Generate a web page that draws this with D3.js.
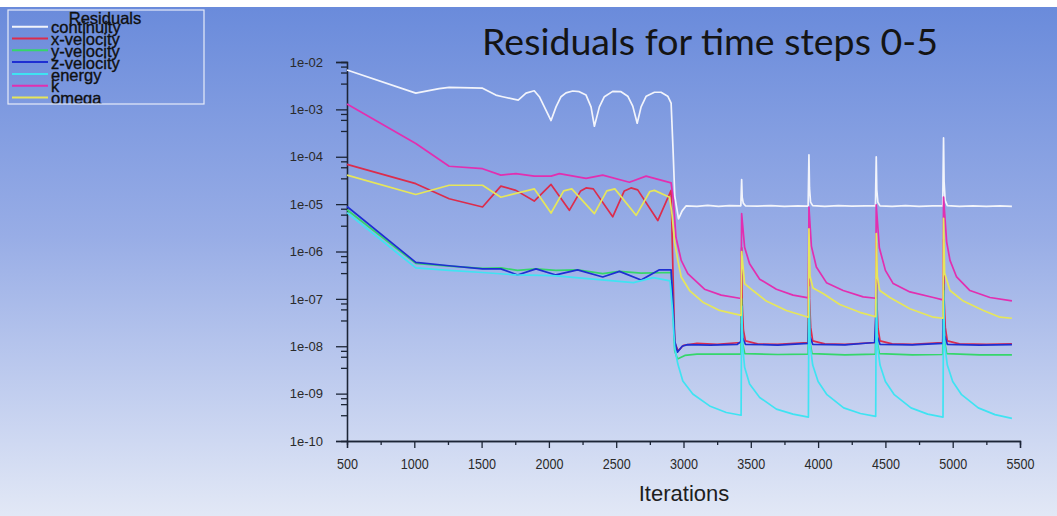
<!DOCTYPE html>
<html>
<head>
<meta charset="utf-8">
<script src="https://cdn.jsdelivr.net/npm/d3@7"></script>
<style>
  html, body { margin: 0; padding: 0; background: #ffffff; overflow: hidden; }
  svg { display: block; }
</style>
</head>
<body>
<svg id="chart" width="1057" height="516"></svg>
<script>
// Residual histories, [iteration, residual] pairs
const continuity = [
  [500,6.8e-3],[1011,2.2e-3],[1185,2.75e-3],[1259,2.9e-3],[1507,2.8e-3],[1606,2.0e-3],[1656,1.85e-3],
  [1772,1.57e-3],[1830,2.2e-3],[1891,2.47e-3],[1929,1.85e-3],[1978,9.6e-4],[2016,5.8e-4],[2053,1.13e-3],
  [2090,1.85e-3],[2127,2.23e-3],[2177,2.44e-3],[2226,2.36e-3],[2276,2.0e-3],[2313,1.13e-3],[2338,4.4e-4],
  [2375,1.13e-3],[2412,1.85e-3],[2474,2.4e-3],[2536,2.36e-3],[2586,1.9e-3],[2623,1.17e-3],[2656,5.1e-4],
  [2685,1.13e-3],[2723,1.9e-3],[2784,2.3e-3],[2833,2.3e-3],[2883,1.9e-3],[2908,1.35e-3],[2922,1.5e-4],
  [2935,1.5e-5],[2963,4.9e-6],[2990,7.2e-6],[3020,9.2e-6],[3100,9.0e-6],[3180,9.4e-6],[3260,9.0e-6],
  [3340,9.3e-6],[3426,9.2e-6],[3432,3.3e-5],[3436,1.4e-5],[3444,1.05e-5],[3460,9.2e-6],[3550,9.1e-6],
  [3650,9.3e-6],[3750,9.0e-6],[3850,9.2e-6],[3926,9.1e-6],[3932,1.1e-4],[3936,2.2e-5],[3944,1.1e-5],
  [3960,9.3e-6],[4050,9.0e-6],[4150,9.3e-6],[4250,9.1e-6],[4350,9.2e-6],[4426,9.2e-6],[4432,1.0e-4],
  [4436,2.0e-5],[4444,1.1e-5],[4460,9.2e-6],[4550,9.0e-6],[4650,9.3e-6],[4750,9.0e-6],[4850,9.2e-6],
  [4926,9.2e-6],[4932,2.5e-4],[4936,3.0e-5],[4944,1.2e-5],[4960,9.3e-6],[5050,9.0e-6],[5150,9.2e-6],
  [5250,9.0e-6],[5350,9.2e-6],[5440,9.0e-6]
];
const xVelocity = [
  [500,6.9e-5],[1011,2.7e-5],[1259,1.3e-5],[1507,8.7e-6],[1643,2.4e-5],[1755,1.95e-5],[1891,1.16e-5],
  [2016,2.6e-5],[2152,7.4e-6],[2236,1.9e-5],[2276,2.2e-5],[2330,2.1e-5],[2474,5.4e-6],[2560,1.9e-5],
  [2610,2.2e-5],[2660,2.0e-5],[2809,4.5e-6],[2908,1.95e-5],[2918,1.0e-6],[2935,1.2e-8],[2960,8.0e-9],
  [3000,1.05e-8],[3100,1.15e-8],[3250,1.1e-8],[3426,1.2e-8],[3432,1.2e-6],[3436,8.0e-8],[3445,2.2e-8],
  [3460,1.3e-8],[3550,1.12e-8],[3700,1.1e-8],[3926,1.2e-8],[3932,2.0e-6],[3936,1.0e-7],[3945,2.5e-8],
  [3960,1.3e-8],[4050,1.12e-8],[4200,1.1e-8],[4426,1.2e-8],[4432,1.5e-6],[4436,9.0e-8],[4445,2.4e-8],
  [4460,1.3e-8],[4550,1.12e-8],[4700,1.1e-8],[4926,1.2e-8],[4932,1.8e-6],[4936,1.0e-7],[4945,2.5e-8],
  [4960,1.3e-8],[5050,1.12e-8],[5250,1.1e-8],[5440,1.12e-8]
];
const yVelocity = [
  [500,7.6e-6],[1011,5.6e-7],[1259,4.9e-7],[1507,4.4e-7],[1643,4.5e-7],[1767,4.0e-7],[1904,4.3e-7],
  [2052,4.0e-7],[2213,4.1e-7],[2400,3.4e-7],[2524,3.8e-7],[2685,3.5e-7],[2908,3.6e-7],[2920,8.0e-8],
  [2935,8.0e-9],[2955,5.4e-9],[3010,6.4e-9],[3100,6.8e-9],[3426,6.8e-9],[3432,1.0e-7],[3438,1.2e-8],
  [3455,7.0e-9],[3700,6.7e-9],[3926,6.8e-9],[3932,1.5e-7],[3938,1.3e-8],[3955,7.0e-9],[4200,6.6e-9],
  [4426,6.8e-9],[4432,1.5e-7],[4438,1.3e-8],[4455,7.0e-9],[4700,6.6e-9],[4926,6.7e-9],[4932,2.0e-7],
  [4938,1.4e-8],[4955,7.0e-9],[5200,6.6e-9],[5440,6.6e-9]
];
const zVelocity = [
  [500,8.9e-6],[1011,5.9e-7],[1259,5.0e-7],[1507,4.3e-7],[1643,4.3e-7],[1767,3.2e-7],[1904,4.3e-7],
  [2052,3.2e-7],[2213,4.1e-7],[2400,2.9e-7],[2524,3.8e-7],[2685,2.5e-7],[2821,4.1e-7],[2908,4.1e-7],
  [2920,1.0e-7],[2935,1.3e-8],[2955,7.5e-9],[2990,1.0e-8],[3030,1.08e-8],[3200,1.06e-8],[3400,1.1e-8],
  [3426,1.25e-8],[3432,3.0e-8],[3440,1.5e-8],[3460,1.1e-8],[3700,1.06e-8],[3926,1.15e-8],[3932,5.0e-8],
  [3940,1.6e-8],[3960,1.1e-8],[4200,1.07e-8],[4420,1.2e-8],[4432,6.0e-8],[4440,1.6e-8],[4460,1.1e-8],
  [4700,1.07e-8],[4926,1.15e-8],[4932,9.0e-8],[4940,1.7e-8],[4960,1.1e-8],[5200,1.06e-8],[5440,1.08e-8]
];
const energy = [
  [500,6.6e-6],[1011,4.5e-7],[1259,4.0e-7],[1507,3.6e-7],[1755,3.2e-7],[2030,3.1e-7],[2330,2.6e-7],
  [2628,2.2e-7],[2776,2.8e-7],[2900,2.4e-7],[2918,6.0e-8],[2935,9.0e-9],[2958,4.2e-9],[2995,1.85e-9],
  [3069,9.8e-10],[3194,5.5e-10],[3318,4.0e-10],[3428,3.5e-10],[3432,7.0e-8],[3440,1.0e-8],[3454,3.6e-9],
  [3491,1.6e-9],[3566,8.3e-10],[3690,4.7e-10],[3814,3.7e-10],[3928,3.2e-10],[3932,1.8e-7],[3940,1.1e-8],
  [3960,4.0e-9],[4000,1.8e-9],[4066,9.5e-10],[4190,5.0e-10],[4314,3.8e-10],[4428,3.3e-10],[4432,2.0e-7],
  [4440,1.1e-8],[4460,4.0e-9],[4500,1.8e-9],[4566,9.5e-10],[4690,5.0e-10],[4814,3.7e-10],[4928,3.2e-10],
  [4932,1.5e-7],[4940,1.1e-8],[4960,4.0e-9],[5000,1.8e-9],[5066,9.5e-10],[5190,5.0e-10],[5314,3.6e-10],
  [5440,3.0e-10]
];
const kResidual = [
  [500,1.3e-3],[1011,1.9e-4],[1259,6.3e-5],[1507,5.6e-5],[1643,4.1e-5],[1755,4.4e-5],[1891,3.9e-5],
  [2016,3.9e-5],[2078,4.4e-5],[2276,3.5e-5],[2400,4.1e-5],[2598,2.9e-5],[2722,3.9e-5],[2908,2.8e-5],
  [2925,1.2e-5],[2944,2.0e-6],[2983,6.5e-7],[3032,3.4e-7],[3156,1.6e-7],[3280,1.2e-7],[3428,1.02e-7],
  [3432,6.3e-6],[3454,1.23e-6],[3491,5.5e-7],[3566,2.6e-7],[3690,1.6e-7],[3814,1.2e-7],[3928,1.05e-7],
  [3932,8.7e-6],[3950,1.3e-6],[3987,4.7e-7],[4062,2.2e-7],[4186,1.5e-7],[4335,1.1e-7],[4428,1.03e-7],
  [4432,9.6e-6],[4455,1.2e-6],[4500,4.0e-7],[4558,2.1e-7],[4682,1.4e-7],[4856,1.07e-7],[4928,9.5e-8],
  [4932,1.4e-5],[4955,1.6e-6],[4980,6.5e-7],[5029,2.9e-7],[5128,1.5e-7],[5277,1.07e-7],[5440,9.1e-8]
];
const omega = [
  [500,4.1e-5],[1011,1.6e-5],[1259,2.5e-5],[1507,2.5e-5],[1643,1.4e-5],[1891,2.1e-5],[2016,6.5e-6],
  [2110,1.9e-5],[2170,2.1e-5],[2338,6.3e-6],[2430,1.9e-5],[2490,2.1e-5],[2648,5.8e-6],[2750,1.85e-5],
  [2784,1.95e-5],[2896,1.4e-5],[2915,6.0e-6],[2935,1.5e-6],[2958,6.5e-7],[2983,2.9e-7],[3045,1.5e-7],
  [3144,8.5e-8],[3268,5.7e-8],[3428,4.5e-8],[3432,1.0e-6],[3454,2.1e-7],[3516,1.5e-7],[3615,9.0e-8],
  [3764,5.7e-8],[3928,4.1e-8],[3932,3.0e-6],[3940,3.0e-7],[3962,1.7e-7],[4037,1.3e-7],[4161,7.6e-8],
  [4310,5.2e-8],[4428,4.2e-8],[4432,2.4e-6],[4440,3.0e-7],[4458,1.5e-7],[4533,1.07e-7],[4682,6.2e-8],
  [4856,4.1e-8],[4928,3.9e-8],[4932,5.0e-6],[4940,3.5e-7],[4980,1.5e-7],[5079,9.0e-8],[5228,5.7e-8],
  [5351,4.1e-8],[5440,3.9e-8]
];

const seriesNames = ["continuity", "x-velocity", "y-velocity", "z-velocity", "energy", "k", "omega"];
const seriesData = [continuity, xVelocity, yVelocity, zVelocity, energy, kResidual, omega];
const seriesColors = ["#f2f4fb", "#dc2c4c", "#35d66a", "#1e2fd2", "#3fe3f2", "#e22fb0", "#e6e65a"];

const xTicks = [500, 1000, 1500, 2000, 2500, 3000, 3500, 4000, 4500, 5000, 5500];
const yTicks = [1e-10, 1e-9, 1e-8, 1e-7, 1e-6, 1e-5, 1e-4, 1e-3, 1e-2];
const yTickLabels = ["1e-10", "1e-09", "1e-08", "1e-07", "1e-06", "1e-05", "1e-04", "1e-03", "1e-02"];
const yMinorFactors = [8, 6, 3.5];

const titleText = "Residuals for time steps 0-5";
const xAxisTitle = "Iterations";
const legendTitle = "Residuals";

const W = 1057, H = 516;
const svg = d3.select("#chart");
const defs = svg.append("defs");

// background gradient panel
const grad = defs.append("linearGradient").attr("id", "bg").attr("x1", 0).attr("y1", 0).attr("x2", 0).attr("y2", 1);
grad.append("stop").attr("offset", "0%").attr("stop-color", "#6a8bdb");
grad.append("stop").attr("offset", "45%").attr("stop-color", "#98ade6");
grad.append("stop").attr("offset", "100%").attr("stop-color", "#e2e8f6");
svg.append("rect").attr("x", 0).attr("y", 7).attr("width", W).attr("height", H - 7).attr("fill", "url(#bg)");

// scales
const x = d3.scaleLinear().domain([500, 5500]).range([347, 1020]);
const y = d3.scaleLog().domain([1e-10, 1e-2]).range([441, 62]);

const axisColor = "#1c2536";
const tickFont = "'Liberation Sans', Arial, sans-serif";

// y axis: decades with labels plus minor ticks
const yMinor = [];
yTicks.slice(0, -1).forEach(d => yMinorFactors.forEach(f => yMinor.push(d * f)));

const gy = svg.append("g").attr("transform", `translate(${x(500)},0)`);
gy.call(d3.axisLeft(y).tickValues(yTicks).tickSize(11).tickPadding(13)
  .tickFormat((d, i) => yTickLabels[i]));
const gyMinor = svg.append("g").attr("transform", `translate(${x(500)},0)`);
gyMinor.call(d3.axisLeft(y).tickValues(yMinor).tickSize(6).tickFormat(""));
[gy, gyMinor].forEach(g => {
  g.select(".domain").attr("stroke", axisColor).attr("stroke-width", 1.3);
  g.selectAll(".tick line").attr("stroke", axisColor).attr("stroke-width", 1.3);
});
gy.selectAll(".tick text").attr("fill", "#2a2a2a").style("font-family", tickFont).style("font-size", "13px");

// x axis: major ticks labelled, minor ticks halfway
const xMinor = xTicks.slice(0, -1).map(d => d + 250);
const gx = svg.append("g").attr("transform", `translate(0,${y(1e-10)})`);
gx.call(d3.axisBottom(x).tickValues(xTicks).tickSize(7).tickPadding(10).tickFormat(d3.format("d")));
const gxMinor = svg.append("g").attr("transform", `translate(0,${y(1e-10)})`);
gxMinor.call(d3.axisBottom(x).tickValues(xMinor).tickSize(4).tickFormat(""));
[gx, gxMinor].forEach(g => {
  g.select(".domain").attr("stroke", axisColor).attr("stroke-width", 1.3);
  g.selectAll(".tick line").attr("stroke", axisColor).attr("stroke-width", 1.3);
});
// condensed tick numerals
gx.selectAll(".tick text").attr("fill", "#2a2a2a")
  .style("font-family", tickFont).style("font-size", "15px")
  .attr("transform", "scale(0.84,1)");

// residual lines
const line = d3.line().x(d => x(d[0])).y(d => y(d[1]));
svg.append("g").selectAll("path").data(seriesData).join("path")
  .attr("d", line)
  .attr("fill", "none")
  .attr("stroke", (d, i) => seriesColors[i])
  .attr("stroke-width", 1.7)
  .attr("stroke-linejoin", "round");

// titles
svg.append("text").attr("x", 710).attr("y", 55).attr("text-anchor", "middle")
  .style("font-family", "Lato, 'Open Sans', sans-serif").style("font-size", "37.5px")
  .attr("fill", "#141414").text(titleText);
svg.append("text").attr("x", 684).attr("y", 501).attr("text-anchor", "middle")
  .style("font-family", "'Liberation Sans', Arial, sans-serif").style("font-size", "22px")
  .attr("fill", "#1e1e1e").text(xAxisTitle);

// legend box
const lg = svg.append("g");
defs.append("clipPath").attr("id", "legendClip").append("rect")
  .attr("x", 8).attr("y", 10).attr("width", 196).attr("height", 94);
const lgInner = lg.append("g").attr("clip-path", "url(#legendClip)");
lgInner.append("text").attr("x", 105).attr("y", 23.5).attr("text-anchor", "middle")
  .style("font-family", "'Liberation Sans', Arial, sans-serif").style("font-size", "16.5px")
  .attr("fill", "#101010").attr("stroke", "#101010").attr("stroke-width", 0.35)
  .text(legendTitle);
const rows = lgInner.selectAll("g.row").data(seriesNames).join("g").attr("class", "row")
  .attr("transform", (d, i) => `translate(0,${26.7 + i * 11.8})`);
rows.append("line").attr("x1", 12).attr("x2", 48).attr("y1", 0).attr("y2", 0)
  .attr("stroke", (d, i) => seriesColors[i]).attr("stroke-width", 2);
rows.append("text").attr("x", 51).attr("y", 6.6)
  .style("font-family", "'Liberation Sans', Arial, sans-serif").style("font-size", "16.5px")
  .attr("fill", "#101010").attr("stroke", "#101010").attr("stroke-width", 0.35)
  .text(d => d);
lg.append("rect").attr("x", 8).attr("y", 10).attr("width", 196).attr("height", 94)
  .attr("fill", "none").attr("stroke", "#e6ebf8").attr("stroke-width", 1.2);
</script>
</body>
</html>
